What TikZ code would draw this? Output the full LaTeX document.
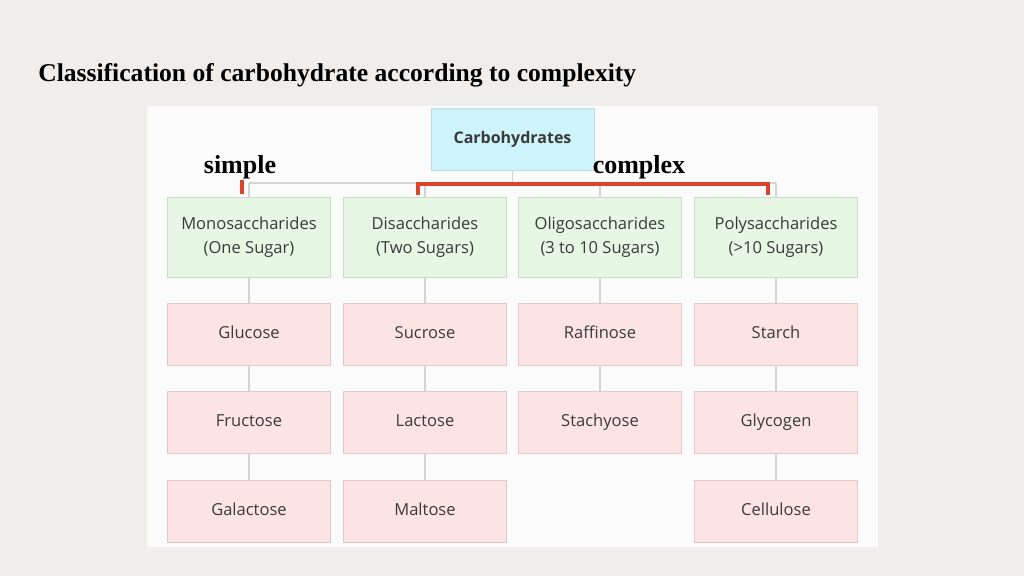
\documentclass[tikz,border=0pt]{standalone}
\usepackage{fontspec}
\setmainfont{Liberation Serif}
\newfontfamily\boxfont{Open Sans}
\definecolor{bg}{HTML}{EFEEEB}
\definecolor{gfill}{HTML}{E6F8E4}
\definecolor{gline}{HTML}{C8DCC6}
\definecolor{pfill}{HTML}{FCE4E4}
\definecolor{pline}{HTML}{E4C8C8}
\definecolor{cfill}{HTML}{CDF3FB}
\definecolor{redl}{HTML}{D9442A}
\definecolor{tree}{HTML}{D4D4D4}
\definecolor{txt}{HTML}{3A3A3A}
\begin{document}
\begin{tikzpicture}[x=0.75pt,y=-0.75pt,
  gbox/.style={draw=gline,fill=gfill,minimum width=163*0.75pt,minimum height=80*0.75pt,font=\boxfont\fontsize{12.4}{15}\selectfont,text=txt,align=center,inner sep=0pt},
  pbox/.style={draw=pline,fill=pfill,minimum width=163*0.75pt,minimum height=62*0.75pt,font=\boxfont\fontsize{12.4}{15}\selectfont,text=txt,inner sep=0pt,text height=9pt,text depth=3pt},
  conn/.style={draw=tree,line width=0.8pt},
  redc/.style={draw=redl,line width=3pt},
  lab/.style={font=\bfseries\fontsize{19.5}{22}\selectfont}]
\fill[bg] (0,0) rectangle (1024,576);
\useasboundingbox (0,0) rectangle (1024,576);
\fill[white!97!gray] (147,106) rectangle (878,547);
\node[anchor=west,inner sep=0pt,font=\bfseries\fontsize{19.2}{22}\selectfont] (title) at (38,75) {Classification of carbohydrate according to complexity};
\node[draw=cfill!80!gray,fill=cfill,minimum width=163*0.75pt,minimum height=62*0.75pt,font=\boxfont\bfseries\fontsize{12}{15}\selectfont,text=txt,inner sep=0pt] (root) at (512.5,139) {Carbohydrates};
\coordinate (j) at (512.5,183);
\foreach \n/\x/\a/\b in {m/249/Monosaccharides/(One Sugar),d/425/Disaccharides/(Two Sugars),o/600/Oligosaccharides/(3 to 10 Sugars),p/776/Polysaccharides/(>10 Sugars)}{
  \coordinate (t\n) at (\x,183);
  \node[gbox] (\n) at (\x,237) {\a\\[3pt]\b};
}
\draw[conn] (root) -- (j);
\draw[conn] (tm) -- (tp);
\foreach \n in {m,d,o,p} \draw[conn] (t\n) -- (\n);
\foreach \n/\x/\a/\b/\c in {m/249/Glucose/Fructose/Galactose,d/425/Sucrose/Lactose/Maltose,p/776/Starch/Glycogen/Cellulose}{
  \node[pbox] (\n1) at (\x,334) {\a};
  \node[pbox] (\n2) at (\x,422.5) {\b};
  \node[pbox] (\n3) at (\x,511) {\c};
  \draw[conn] (\n) -- (\n1); \draw[conn] (\n1) -- (\n2); \draw[conn] (\n2) -- (\n3);
}
\node[pbox] (o1) at (600,334) {Raffinose};
\node[pbox] (o2) at (600,422.5) {Stachyose};
\draw[conn] (o) -- (o1); \draw[conn] (o1) -- (o2);
\coordinate (s1) at (242,180); \coordinate (s2) at (242,194);
\draw[redc] (s1) -- (s2);
\coordinate (c1) at (418,195); \coordinate (c2) at (418,184); \coordinate (c3) at (768,184); \coordinate (c4) at (768,195);
\draw[redc] (c1) -- (c2) -- (c3) -- (c4);
\node[lab] (simple) at (240,167) {simple};
\node[lab] (complex) at (639,167) {complex};
\end{tikzpicture}
\end{document}
